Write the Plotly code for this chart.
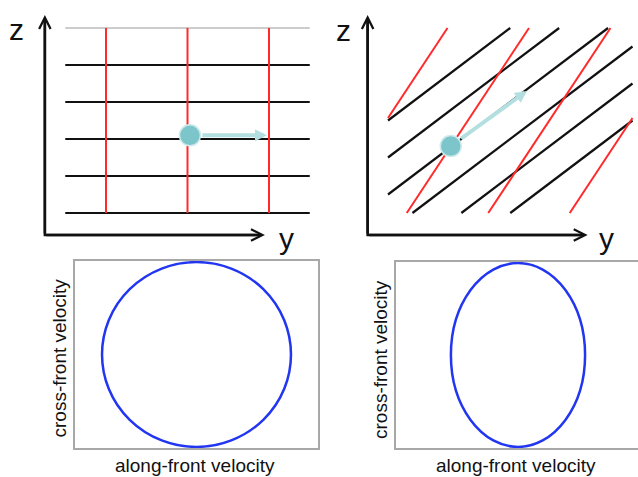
import numpy as np
import plotly.graph_objects as go

W, H = 638, 477

# ---- upper panels: isopycnals (black) and vertical marker lines (red) ----
frame_y = [0.5, 3.5]          # horizontal extent of the line field
frame_z = [0.0, 5.0]          # vertical extent of the line field

# unperturbed state
flat_levels = [0, 1, 2, 3, 4]
flat_top_level = 5
flat_red_positions = [1, 2, 3]

# tilted front: z = c + s * (y - 0.5)
tilted_intercepts = [2.5, 1.5, 0.5, -0.5, -1.5, -2.5]
tilted_slope = 5 / 3
# sheared red lines: z = s_r * (y - root)
red_roots = [-0.27, 0.73, 1.73, 2.73]
red_slope = 10 / 3

# fluid parcel and its velocity
parcel_flat = (2.03, 2.10)
parcel_flat_tip = (2.975, 2.10)
parcel_tilt = (1.27, 1.81)
parcel_tilt_tip = (2.205, 3.30)

# coordinate axes of the sketches
axis_origin = (0.25, -0.595)
axis_y_tip = 2.95
axis_z_tip = 5.35

# ---- lower panels: velocity hodographs (semi-axes) ----
hodo_along = [1.0, 0.71]
hodo_cross = [1.0, 1.0]

BLACK = "#111111"
RED = "#ff2a2a"
TEAL = "#7cc6cb"
TEAL_LIGHT = "#b4dfe1"
BLUE = "#2236f2"
FRAME = "#a8a8a8"
FONT = "Liberation Sans, Arial, sans-serif"


def dom_x(p0, p1):
    return [p0 / W, p1 / W]


def dom_y(top, bottom):
    return [1 - bottom / H, 1 - top / H]


def clip_line(f, inv):
    """Segment of a straight line clipped to the frame."""
    y_lo = max(frame_y[0], inv(frame_z[0]))
    y_hi = min(frame_y[1], inv(frame_z[1]))
    return [y_lo, y_hi], [f(y_lo), f(y_hi)]


fig = go.Figure()

# ---------- upper-left ----------
for z in flat_levels:
    fig.add_trace(go.Scatter(x=frame_y, y=[z, z], mode="lines",
                             line=dict(color=BLACK, width=2.2),
                             xaxis="x", yaxis="y", hoverinfo="skip"))
fig.add_trace(go.Scatter(x=frame_y, y=[flat_top_level] * 2, mode="lines",
                         line=dict(color="#9a9a9a", width=1),
                         xaxis="x", yaxis="y", hoverinfo="skip"))
for yv in flat_red_positions:
    fig.add_trace(go.Scatter(x=[yv, yv], y=frame_z, mode="lines",
                             line=dict(color=RED, width=2),
                             xaxis="x", yaxis="y", hoverinfo="skip"))

# ---------- upper-right ----------
for c in tilted_intercepts:
    xs, zs = clip_line(lambda y, c=c: c + tilted_slope * (y - 0.5),
                       lambda z, c=c: 0.5 + (z - c) / tilted_slope)
    fig.add_trace(go.Scatter(x=xs, y=zs, mode="lines",
                             line=dict(color=BLACK, width=2.2),
                             xaxis="x2", yaxis="y2", hoverinfo="skip"))
for r in red_roots:
    xs, zs = clip_line(lambda y, r=r: red_slope * (y - r),
                       lambda z, r=r: r + z / red_slope)
    fig.add_trace(go.Scatter(x=xs, y=zs, mode="lines",
                             line=dict(color=RED, width=2),
                             xaxis="x2", yaxis="y2", hoverinfo="skip"))

# axes "L" of both sketches
for xa, ya in (("x", "y"), ("x2", "y2")):
    fig.add_trace(go.Scatter(
        x=[axis_origin[0], axis_origin[0], axis_y_tip - 0.05],
        y=[axis_z_tip - 0.1, axis_origin[1], axis_origin[1]],
        mode="lines", line=dict(color=BLACK, width=2.5),
        xaxis=xa, yaxis=ya, hoverinfo="skip"))

# parcels
for (p, xa, ya) in ((parcel_flat, "x", "y"), (parcel_tilt, "x2", "y2")):
    fig.add_trace(go.Scatter(x=[p[0]], y=[p[1]], mode="markers",
                             marker=dict(size=21, color=TEAL,
                                         line=dict(color="#cfeaec", width=1.5)),
                             xaxis=xa, yaxis=ya, hoverinfo="skip"))

# ---------- hodographs ----------
for i, (a, b) in enumerate(zip(hodo_along, hodo_cross)):
    n = str(i + 3)
    fig.add_shape(type="circle", xref="x" + n, yref="y" + n,
                  x0=-a, x1=a, y0=-b, y1=b,
                  line=dict(color=BLUE, width=2.5))

annotations = []
for xa, ya in (("x", "y"), ("x2", "y2")):
    # coordinate arrows
    annotations.append(dict(x=axis_origin[0], y=axis_z_tip, ax=axis_origin[0],
                            ay=axis_origin[1], xref=xa, yref=ya, axref=xa, ayref=ya,
                            text="", showarrow=True, arrowhead=5, arrowsize=0.9,
                            arrowwidth=2.5, arrowcolor=BLACK))
    annotations.append(dict(x=axis_y_tip, y=axis_origin[1], ax=axis_origin[0],
                            ay=axis_origin[1], xref=xa, yref=ya, axref=xa, ayref=ya,
                            text="", showarrow=True, arrowhead=5, arrowsize=0.9,
                            arrowwidth=2.5, arrowcolor=BLACK))

# parcel velocity arrows
for (p, tip, xa, ya) in ((parcel_flat, parcel_flat_tip, "x", "y"),
                         (parcel_tilt, parcel_tilt_tip, "x2", "y2")):
    annotations.append(dict(x=tip[0], y=tip[1], ax=p[0], ay=p[1],
                            xref=xa, yref=ya, axref=xa, ayref=ya,
                            text="", showarrow=True, arrowhead=2, arrowsize=0.6,
                            arrowwidth=4, arrowcolor=TEAL_LIGHT, startstandoff=11))

# axis letters
for (xv, zv, t, xa, ya) in ((-0.104, 4.96, "z", "x", "y"),
                            (3.21, -0.69, "y", "x", "y"),
                            (-0.052, 4.92, "z", "x2", "y2"),
                            (3.187, -0.70, "y", "x2", "y2")):
    annotations.append(dict(x=xv, y=zv, text=t, xref=xa, yref=ya, showarrow=False,
                            xanchor="center", yanchor="middle",
                            font=dict(family=FONT, size=30, color=BLACK)))

# hodograph axis labels
for cx in (195, 516):
    annotations.append(dict(x=cx / W, y=1 - 465 / H, xref="paper", yref="paper",
                            text="along-front velocity", showarrow=False,
                            xanchor="center", yanchor="middle",
                            font=dict(family=FONT, size=19, color=BLACK)))
for cx, cy in ((58.5, 358), (380, 360)):
    annotations.append(dict(x=cx / W, y=1 - cy / H, xref="paper", yref="paper",
                            text="cross-front velocity", showarrow=False, textangle=-90,
                            xanchor="center", yanchor="middle",
                            font=dict(family=FONT, size=19, color=BLACK)))

hidden = dict(visible=False, showgrid=False, zeroline=False, fixedrange=True)

# top sketches: 81.5 px per unit in y, 37 px per unit in z, z=0 at 213 px
def top_xrange(origin_px, p0, p1):
    return [(p0 - origin_px) / 81.5, (p1 - origin_px) / 81.5]

z_range = [(213 - 250) / 37, 213 / 37]

frame_axis = dict(showgrid=False, zeroline=False, showticklabels=False, ticks="",
                  showline=True, linecolor=FRAME, linewidth=1.5, fixedrange=True)

fig.update_layout(
    width=W, height=H, autosize=False,
    margin=dict(l=0, r=0, t=0, b=0),
    paper_bgcolor="white", plot_bgcolor="white",
    showlegend=False,
    xaxis=dict(hidden, domain=dom_x(0, 320), range=top_xrange(24.5, 0, 320)),
    yaxis=dict(hidden, domain=dom_y(0, 250), range=z_range),
    xaxis2=dict(hidden, domain=dom_x(320, 638), range=top_xrange(347.25, 320, 638),
                anchor="y2"),
    yaxis2=dict(hidden, domain=dom_y(0, 250), range=z_range, anchor="x2"),
    xaxis3=dict(frame_axis, domain=dom_x(75, 318), range=[-1.286, 1.286],
                mirror=True, anchor="y3"),
    yaxis3=dict(frame_axis, domain=dom_y(261, 448), range=[-1.012, 1.012],
                mirror=True, anchor="x3"),
    xaxis4=dict(frame_axis, domain=dom_x(396, 638), range=[-1.291, 1.270],
                mirror=True, anchor="y4"),
    yaxis4=dict(frame_axis, domain=dom_y(262, 448), range=[-1.012, 1.012],
                mirror=False, anchor="x4"),
    annotations=annotations,
)

fig.write_html("out.html")
